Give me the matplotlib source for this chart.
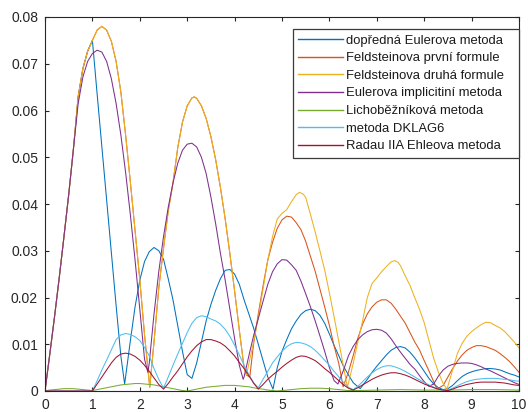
import matplotlib
matplotlib.use("Agg")
import matplotlib.pyplot as plt

plt.rcParams['font.family'] = ['Liberation Sans', 'DejaVu Sans']

# ---- data (x, y) pairs ----
feld2 = [(0.0, 0.0), (0.1, 0.0078), (0.2, 0.0158), (0.3, 0.0242), (0.4, 0.0330), (0.5, 0.0420),
         (0.6, 0.0518), (0.7, 0.0630), (0.8, 0.0690), (0.9, 0.0727), (1.0, 0.0750), (1.1, 0.0772),
         (1.2, 0.0780), (1.3, 0.0772), (1.4, 0.0748), (1.5, 0.0705), (1.6, 0.0640), (1.7, 0.0548),
         (1.8, 0.0448), (1.9, 0.0343), (2.0, 0.0238), (2.1, 0.0120), (2.21, 0.0008), (2.3, 0.0105),
         (2.4, 0.0220), (2.5, 0.0305), (2.6, 0.0385), (2.7, 0.0445), (2.8, 0.0520), (2.9, 0.0575),
         (3.0, 0.0610), (3.1, 0.0627), (3.15, 0.0629), (3.2, 0.0626), (3.3, 0.0610), (3.4, 0.0583),
         (3.5, 0.0544), (3.6, 0.0495), (3.7, 0.0436), (3.8, 0.0369), (3.9, 0.0294), (4.0, 0.0214),
         (4.1, 0.0130), (4.2, 0.0050), (4.25, 0.0034), (4.3, 0.0058), (4.4, 0.0105), (4.5, 0.0157),
         (4.6, 0.0218), (4.7, 0.0280), (4.8, 0.0330), (4.9, 0.0368), (5.0, 0.0380), (5.1, 0.0388),
         (5.2, 0.0405), (5.3, 0.0420), (5.37, 0.0425), (5.45, 0.0421), (5.5, 0.0414), (5.6, 0.0378),
         (5.7, 0.0340), (5.8, 0.0300), (5.9, 0.0259), (6.0, 0.0210), (6.1, 0.0158), (6.2, 0.0105),
         (6.3, 0.0050), (6.38, 0.0008), (6.5, 0.0058), (6.6, 0.0105), (6.7, 0.0150), (6.8, 0.0200),
         (6.9, 0.0230), (7.0, 0.0242), (7.1, 0.0255), (7.2, 0.0266), (7.3, 0.0276), (7.38, 0.0279),
         (7.45, 0.0275), (7.5, 0.0268), (7.6, 0.0246), (7.7, 0.0226), (7.8, 0.0200), (7.9, 0.0175),
         (8.0, 0.0146), (8.1, 0.0108), (8.2, 0.0070), (8.3, 0.0040), (8.4, 0.0016), (8.48, 0.0004),
         (8.6, 0.0045), (8.7, 0.0080), (8.8, 0.0102), (8.9, 0.0117), (9.0, 0.0127), (9.1, 0.0135),
         (9.2, 0.0142), (9.3, 0.0147), (9.4, 0.0146), (9.5, 0.0140), (9.6, 0.0135), (9.7, 0.0127),
         (9.8, 0.0116), (9.9, 0.0105), (10.0, 0.0092)]

feld1 = [p for p in feld2 if p[0] <= 4.25] + [
         (4.32, 0.0030), (4.4, 0.0100), (4.5, 0.0165), (4.6, 0.0225), (4.7, 0.0280), (4.8, 0.0318),
         (4.9, 0.0348), (5.0, 0.0366), (5.1, 0.0374), (5.2, 0.0372), (5.3, 0.0360), (5.4, 0.0345),
         (5.5, 0.0320), (5.6, 0.0288), (5.7, 0.0256), (5.8, 0.0218), (5.9, 0.0180), (6.0, 0.0140),
         (6.1, 0.0096), (6.2, 0.0058), (6.29, 0.0009), (6.4, 0.0040), (6.5, 0.0075), (6.6, 0.0113),
         (6.7, 0.0143), (6.8, 0.0165), (6.9, 0.0180), (7.0, 0.0190), (7.1, 0.0195), (7.2, 0.0195),
         (7.3, 0.0188), (7.4, 0.0175), (7.5, 0.0160), (7.6, 0.0145), (7.7, 0.0125), (7.8, 0.0105),
         (7.9, 0.0088), (8.0, 0.0065), (8.1, 0.0043), (8.2, 0.0020), (8.27, 0.0004), (8.4, 0.0012),
         (8.5, 0.0030), (8.6, 0.0048), (8.7, 0.0064), (8.8, 0.0077), (8.9, 0.0087), (9.0, 0.0093),
         (9.1, 0.0097), (9.2, 0.0097), (9.3, 0.0095), (9.4, 0.0091), (9.5, 0.0087), (9.6, 0.0080),
         (9.7, 0.0072), (9.8, 0.0063), (9.9, 0.0052), (10.0, 0.0040)]

euler_fwd = [p for p in feld2 if p[0] <= 1.0] + [
         (1.1, 0.0635), (1.2, 0.0522), (1.3, 0.0409), (1.4, 0.0296), (1.5, 0.0183), (1.6, 0.0075),
         (1.68, 0.0015), (1.7, 0.0030), (1.8, 0.0107), (1.9, 0.0180), (2.0, 0.0237), (2.1, 0.0277),
         (2.2, 0.0298), (2.3, 0.0307), (2.4, 0.0300), (2.5, 0.0282), (2.6, 0.0240), (2.7, 0.0195),
         (2.8, 0.0140), (2.9, 0.0085), (3.0, 0.0035), (3.1, 0.0027), (3.2, 0.0060), (3.3, 0.0105),
         (3.4, 0.0150), (3.5, 0.0185), (3.6, 0.0215), (3.7, 0.0240), (3.8, 0.0258), (3.9, 0.0260),
         (4.0, 0.0250), (4.1, 0.0228), (4.2, 0.0195), (4.3, 0.0165), (4.4, 0.0135), (4.5, 0.0100),
         (4.6, 0.0065), (4.7, 0.0030), (4.81, 0.0004), (4.9, 0.0050), (5.0, 0.0085), (5.1, 0.0110),
         (5.2, 0.0133), (5.3, 0.0150), (5.4, 0.0164), (5.5, 0.0172), (5.6, 0.0175), (5.7, 0.0172),
         (5.8, 0.0162), (5.9, 0.0145), (6.0, 0.0122), (6.1, 0.0097), (6.2, 0.0075), (6.3, 0.0052),
         (6.4, 0.0035), (6.5, 0.0018), (6.65, 0.0005), (6.8, 0.0025), (6.9, 0.0040), (7.0, 0.0053),
         (7.1, 0.0065), (7.2, 0.0077), (7.3, 0.0087), (7.4, 0.0093), (7.5, 0.0095), (7.6, 0.0092),
         (7.7, 0.0083), (7.8, 0.0071), (7.9, 0.0057), (8.0, 0.0042), (8.1, 0.0027), (8.2, 0.0015),
         (8.3, 0.0007), (8.4, 0.0003), (8.5, 0.0005), (8.6, 0.0012), (8.7, 0.0022), (8.8, 0.0031),
         (8.9, 0.0037), (9.0, 0.0041), (9.1, 0.0044), (9.2, 0.0046), (9.3, 0.0048), (9.4, 0.0048),
         (9.5, 0.0047), (9.6, 0.0045), (9.7, 0.0041), (9.8, 0.0037), (9.9, 0.0034), (10.0, 0.0030)]

euler_impl = [p for p in feld2 if p[0] <= 0.6] + [
         (0.7, 0.0615), (0.8, 0.0672), (0.9, 0.0705), (1.0, 0.0722), (1.1, 0.0729), (1.2, 0.0725),
         (1.3, 0.0705), (1.4, 0.0668), (1.5, 0.0615), (1.6, 0.0548), (1.7, 0.0468), (1.8, 0.0378),
         (1.9, 0.0280), (2.0, 0.0175), (2.1, 0.0068), (2.17, 0.0040), (2.2, 0.0060), (2.3, 0.0165),
         (2.4, 0.0255), (2.5, 0.0330), (2.6, 0.0393), (2.7, 0.0445), (2.8, 0.0487), (2.9, 0.0515),
         (3.0, 0.0528), (3.1, 0.0530), (3.2, 0.0522), (3.3, 0.0500), (3.4, 0.0465), (3.5, 0.0415),
         (3.6, 0.0358), (3.7, 0.0295), (3.8, 0.0238), (3.9, 0.0175), (4.0, 0.0112), (4.1, 0.0055),
         (4.18, 0.0025), (4.2, 0.0030), (4.3, 0.0075), (4.4, 0.0118), (4.5, 0.0155), (4.6, 0.0192),
         (4.7, 0.0228), (4.8, 0.0255), (4.9, 0.0272), (5.0, 0.0281), (5.1, 0.0280), (5.2, 0.0270),
         (5.3, 0.0258), (5.4, 0.0235), (5.5, 0.0208), (5.6, 0.0180), (5.7, 0.0150), (5.8, 0.0118),
         (5.9, 0.0085), (6.0, 0.0050), (6.1, 0.0022), (6.18, 0.0015), (6.3, 0.0045), (6.4, 0.0075),
         (6.5, 0.0095), (6.6, 0.0110), (6.7, 0.0120), (6.8, 0.0127), (6.9, 0.0131), (7.0, 0.0132),
         (7.1, 0.0130), (7.2, 0.0124), (7.3, 0.0112), (7.4, 0.0097), (7.5, 0.0083), (7.6, 0.0070),
         (7.7, 0.0057), (7.8, 0.0047), (7.9, 0.0033), (8.0, 0.0020), (8.1, 0.0010), (8.2, 0.0015),
         (8.3, 0.0032), (8.4, 0.0045), (8.5, 0.0053), (8.6, 0.0057), (8.7, 0.0059), (8.8, 0.0060),
         (8.9, 0.0060), (9.0, 0.0059), (9.1, 0.0056), (9.2, 0.0052), (9.3, 0.0047), (9.4, 0.0043),
         (9.5, 0.0038), (9.6, 0.0033), (9.7, 0.0028), (9.8, 0.0023), (9.9, 0.0018), (10.0, 0.0014)]

trapez = [(0.0, 0.0), (0.1, 0.0002), (0.2, 0.0003), (0.3, 0.0004), (0.4, 0.0005), (0.5, 0.0005),
          (0.6, 0.0005), (0.7, 0.0004), (0.8, 0.0003), (0.9, 0.0002), (1.0, 0.0001), (1.1, 0.0003),
          (1.2, 0.0005), (1.3, 0.0007), (1.4, 0.0009), (1.5, 0.0011), (1.6, 0.0013), (1.7, 0.0014),
          (1.8, 0.0015), (1.9, 0.0016), (2.0, 0.0016), (2.1, 0.0015), (2.2, 0.0014), (2.3, 0.0013),
          (2.4, 0.0011), (2.5, 0.0009), (2.6, 0.0007), (2.7, 0.0005), (2.8, 0.0003), (2.9, 0.0001),
          (3.0, 0.0000), (3.1, 0.0002), (3.2, 0.0004), (3.3, 0.0006), (3.4, 0.0008), (3.5, 0.0009),
          (3.6, 0.0010), (3.7, 0.0011), (3.8, 0.0012), (3.9, 0.0012), (4.0, 0.0012), (4.1, 0.0011),
          (4.2, 0.0010), (4.3, 0.0009), (4.4, 0.0007), (4.5, 0.0005), (4.6, 0.0004), (4.7, 0.0002),
          (4.8, 0.0001), (4.9, 0.0000), (5.0, 0.0001), (5.2, 0.0003), (5.4, 0.0005), (5.6, 0.0006),
          (5.8, 0.0006), (6.0, 0.0005), (6.2, 0.0003), (6.4, 0.0001), (6.6, 0.0001), (7.0, 0.0002),
          (7.5, 0.0003), (8.0, 0.0002), (8.5, 0.0002), (9.0, 0.0003), (9.5, 0.0003), (10.0, 0.0002)]

dklag6 = [(0.0, 0.0), (1.0, 0.0), (1.1, 0.0022), (1.2, 0.0045), (1.3, 0.0066), (1.4, 0.0088),
          (1.5, 0.0110), (1.6, 0.0120), (1.7, 0.0123), (1.8, 0.0121), (1.9, 0.0116), (2.0, 0.0108),
          (2.1, 0.0093), (2.2, 0.0075), (2.3, 0.0048), (2.4, 0.0025), (2.5, 0.0006), (2.6, 0.0030),
          (2.7, 0.0055), (2.8, 0.0079), (2.9, 0.0102), (3.0, 0.0125), (3.1, 0.0145), (3.2, 0.0157),
          (3.3, 0.0161), (3.4, 0.0159), (3.5, 0.0154), (3.6, 0.0150), (3.7, 0.0143), (3.8, 0.0132),
          (3.9, 0.0117), (4.0, 0.0098), (4.1, 0.0077), (4.2, 0.0055), (4.3, 0.0035), (4.4, 0.0018),
          (4.5, 0.0007), (4.6, 0.0025), (4.7, 0.0042), (4.8, 0.0060), (4.9, 0.0073), (5.0, 0.0085),
          (5.1, 0.0095), (5.2, 0.0101), (5.3, 0.0104), (5.4, 0.0103), (5.5, 0.0100), (5.6, 0.0095),
          (5.7, 0.0087), (5.8, 0.0077), (5.9, 0.0066), (6.0, 0.0055), (6.1, 0.0042), (6.2, 0.0030),
          (6.3, 0.0018), (6.4, 0.0008), (6.5, 0.0003), (6.6, 0.0010), (6.7, 0.0020), (6.8, 0.0030),
          (6.9, 0.0039), (7.0, 0.0046), (7.1, 0.0051), (7.2, 0.0054), (7.3, 0.0054), (7.4, 0.0051),
          (7.5, 0.0047), (7.6, 0.0042), (7.7, 0.0036), (7.8, 0.0030), (7.9, 0.0024), (8.0, 0.0018),
          (8.1, 0.0013), (8.2, 0.0008), (8.3, 0.0004), (8.4, 0.0002), (8.5, 0.0002), (8.6, 0.0006),
          (8.7, 0.0011), (8.8, 0.0016), (8.9, 0.0020), (9.0, 0.0023), (9.1, 0.0025), (9.2, 0.0026),
          (9.3, 0.0027), (9.4, 0.0027), (9.5, 0.0027), (9.6, 0.0026), (9.7, 0.0025), (9.8, 0.0024),
          (9.9, 0.0022), (10.0, 0.0021)]

radau = [(0.0, 0.0), (1.0, 0.0), (1.1, 0.0015), (1.2, 0.0030), (1.3, 0.0045), (1.4, 0.0060),
         (1.5, 0.0072), (1.6, 0.0079), (1.7, 0.0081), (1.8, 0.0079), (1.9, 0.0074), (2.0, 0.0066),
         (2.1, 0.0055), (2.2, 0.0042), (2.3, 0.0028), (2.4, 0.0014), (2.5, 0.0004), (2.6, 0.0016),
         (2.7, 0.0030), (2.8, 0.0043), (2.9, 0.0058), (3.0, 0.0073), (3.1, 0.0086), (3.2, 0.0097),
         (3.3, 0.0105), (3.4, 0.0110), (3.5, 0.0110), (3.6, 0.0107), (3.7, 0.0103), (3.8, 0.0096),
         (3.9, 0.0086), (4.0, 0.0075), (4.1, 0.0061), (4.2, 0.0048), (4.3, 0.0033), (4.4, 0.0017),
         (4.5, 0.0004), (4.6, 0.0014), (4.7, 0.0025), (4.8, 0.0034), (4.9, 0.0042), (5.0, 0.0051),
         (5.1, 0.0059), (5.2, 0.0066), (5.3, 0.0072), (5.4, 0.0075), (5.5, 0.0074), (5.6, 0.0070),
         (5.7, 0.0065), (5.8, 0.0057), (5.9, 0.0048), (6.0, 0.0040), (6.1, 0.0031), (6.2, 0.0022),
         (6.3, 0.0013), (6.4, 0.0006), (6.5, 0.0002), (6.6, 0.0007), (6.7, 0.0013), (6.8, 0.0019),
         (6.9, 0.0025), (7.0, 0.0030), (7.1, 0.0034), (7.2, 0.0037), (7.3, 0.0039), (7.4, 0.0039),
         (7.5, 0.0037), (7.6, 0.0034), (7.7, 0.0030), (7.8, 0.0025), (7.9, 0.0020), (8.0, 0.0015),
         (8.1, 0.0011), (8.2, 0.0007), (8.3, 0.0004), (8.4, 0.0002), (8.5, 0.0001), (8.6, 0.0004),
         (8.7, 0.0008), (8.8, 0.0011), (8.9, 0.0014), (9.0, 0.0016), (9.1, 0.0018), (9.2, 0.0019),
         (9.3, 0.0019), (9.4, 0.0019), (9.5, 0.0019), (9.6, 0.0018), (9.7, 0.0017), (9.8, 0.0015),
         (9.9, 0.0013), (10.0, 0.0012)]

labels = ["dopředná Eulerova metoda", "Feldsteinova první formule", "Feldsteinova druhá formule",
          "Eulerova implicitiní metoda", "Lichoběžníková metoda", "metoda DKLAG6",
          "Radau IIA Ehleova metoda"]
series = [euler_fwd, feld1, feld2, euler_impl, trapez, dklag6, radau]
colors = ["#0072BD", "#D95319", "#EDB120", "#7E2F8E", "#77AC30", "#4DBEEE", "#A2142F"]

x_ticks = list(range(0, 11))
y_ticks = [0, 0.01, 0.02, 0.03, 0.04, 0.05, 0.06, 0.07, 0.08]
y_ticklabels = ["0", "0.01", "0.02", "0.03", "0.04", "0.05", "0.06", "0.07", "0.08"]

W, H = 528, 412
fig = plt.figure(figsize=(W / 100, H / 100), dpi=100)
ax = fig.add_axes([45 / W, 1 - 391 / H, 474 / W, 374 / H])

for data, lab, col in zip(series, labels, colors):
    xs = [p[0] for p in data]
    ys = [p[1] for p in data]
    ax.plot(xs, ys, color=col, lw=0.75, label=lab)

ax.set_xlim(0, 10)
ax.set_ylim(0, 0.08)
ax.set_xticks(x_ticks)
ax.set_xticklabels([str(t) for t in x_ticks])
ax.set_yticks(y_ticks)
ax.set_yticklabels(y_ticklabels)

dark = "#262626"
for s in ax.spines.values():
    s.set_color(dark)
    s.set_linewidth(0.8)
ax.tick_params(direction='in', length=3, width=0.8, colors=dark, labelsize=10,
               top=True, right=True, pad=5)

# legend: upper-left corner of its box at pixel (293, 29)
lx = (293 - 45) / 474
ly = (391 - 29) / 374
leg = ax.legend(loc='upper left', bbox_to_anchor=(lx, ly), borderaxespad=0,
                fontsize=9.4, handlelength=3.4, handletextpad=0.25, labelspacing=0.42,
                borderpad=0.42, frameon=True, fancybox=False, framealpha=1)
for t in leg.get_texts():
    t.set_color("#1a1a1a")
for h in leg.get_lines():
    h.set_linewidth(1.0)
frame = leg.get_frame()
frame.set_edgecolor("#3a3a3a")
frame.set_linewidth(0.9)

# MATLAB leaves extra room to the right of the legend text: widen the frame
_orig_set_bounds = frame.set_bounds
def _wide_bounds(*args):
    b = args[0] if len(args) == 1 else args
    l, bt, w, h = b
    _orig_set_bounds(l, bt, w + 9, h)
frame.set_bounds = _wide_bounds

fig.savefig("out.png", dpi=100)
